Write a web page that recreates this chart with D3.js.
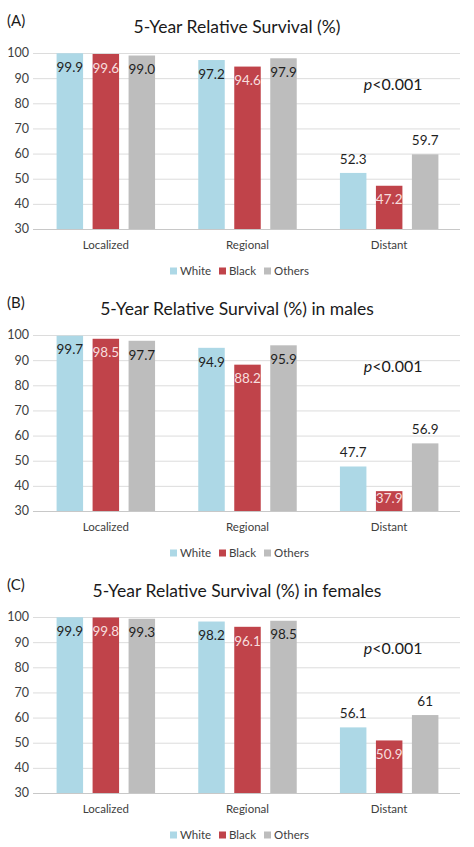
<!DOCTYPE html>
<html>
<head>
<meta charset="utf-8">
<script src="https://cdn.jsdelivr.net/npm/d3@7"></script>
<style>
  body { margin: 0; background: #fff; }
  svg { display: block; font-family: Lato, "Open Sans", sans-serif; }
</style>
</head>
<body>
<svg id="chart" width="474" height="847"></svg>
<script>
// Three stacked grouped-bar panels: 5-year relative survival by stage and race.

const categories = ["Localized", "Regional", "Distant"];
const series = ["White", "Black", "Others"];
const panelLetters = ["(A)", "(B)", "(C)"];
const panelTitles = [
  "5-Year Relative Survival (%)",
  "5-Year Relative Survival (%) in males",
  "5-Year Relative Survival (%) in females"
];
const pLabels = ["<0.001", "<0.001", "<0.001"];

// values kept as the printed labels (Excel shows "61" without decimal)
const allWhite = ["99.9", "97.2", "52.3"];
const allBlack = ["99.6", "94.6", "47.2"];
const allOthers = ["99.0", "97.9", "59.7"];
const maleWhite = ["99.7", "94.9", "47.7"];
const maleBlack = ["98.5", "88.2", "37.9"];
const maleOthers = ["97.7", "95.9", "56.9"];
const femaleWhite = ["99.9", "98.2", "56.1"];
const femaleBlack = ["99.8", "96.1", "50.9"];
const femaleOthers = ["99.3", "98.5", "61"];

const yTicks = [30, 40, 50, 60, 70, 80, 90, 100];

const panelSeries = [
  [allWhite, allBlack, allOthers],
  [maleWhite, maleBlack, maleOthers],
  [femaleWhite, femaleBlack, femaleOthers]
];

const colors = { White: "#add8e6", Black: "#c0434a", Others: "#bdbdbd" };
const labelColors = { White: "#1f1f1f", Black: "#f7dede", Others: "#1f1f1f" };

const svg = d3.select("#chart");
const panelH = 282;

const x0 = d3.scaleBand().domain(categories).range([35, 460]).paddingInner(0);
const x1 = d3.scaleBand().domain(series).range([0, x0.bandwidth()])
  .paddingInner(0.264).paddingOuter(0.6);
const y = d3.scaleLinear().domain([30, 100]).range([229, 53]);

const isInside = d => d.s === "Black" || d.value > 80;

panelTitles.forEach((title, pi) => {
  const g = svg.append("g").attr("transform", `translate(0,${pi * panelH})`);

  g.append("text")
    .attr("x", 7).attr("y", 26)
    .attr("font-size", 15).attr("fill", "#1a1a1a")
    .text(panelLetters[pi]);

  g.append("text")
    .attr("x", 237).attr("y", 33)
    .attr("text-anchor", "middle")
    .attr("font-size", 17.5).attr("fill", "#1a1a1a")
    .text(title);

  // gridlines
  g.selectAll("line.grid")
    .data(yTicks)
    .join("line")
    .attr("class", "grid")
    .attr("x1", 33).attr("x2", 460)
    .attr("y1", d => y(d) + 0.5).attr("y2", d => y(d) + 0.5)
    .attr("stroke", d => d === 30 ? "#c8c8c8" : "#dcdcdc")
    .attr("stroke-width", 1);

  // y tick labels
  g.selectAll("text.ytick")
    .data(yTicks)
    .join("text")
    .attr("class", "ytick")
    .attr("x", 29).attr("y", d => y(d))
    .attr("dy", "0.35em")
    .attr("text-anchor", "end")
    .attr("font-size", 12.5).attr("fill", "#404040")
    .text(d => d);

  // bars
  const rows = [];
  categories.forEach((cat, ci) => {
    series.forEach((s, si) => {
      const label = panelSeries[pi][si][ci];
      rows.push({ cat, s, label, value: +label });
    });
  });

  const groups = g.selectAll("g.cat")
    .data(rows)
    .join("g")
    .attr("class", "cat")
    .attr("transform", d => `translate(${x0(d.cat)},0)`);

  groups.append("rect")
    .attr("x", d => x1(d.s))
    .attr("width", x1.bandwidth())
    .attr("y", d => y(d.value))
    .attr("height", d => y(30) - y(d.value))
    .attr("fill", d => colors[d.s]);

  // labels: inside end for tall bars and Black, outside end otherwise
  groups.append("text")
    .attr("x", d => x1(d.s) + x1.bandwidth() / 2)
    .attr("y", d => isInside(d)
      ? Math.min(y(d.value) + 14, y(30) - 13)
      : y(d.value) - 14)
    .attr("dy", "0.35em")
    .attr("text-anchor", "middle")
    .attr("font-size", 13.5)
    .attr("fill", d => isInside(d) ? labelColors[d.s] : "#1f1f1f")
    .text(d => d.label);

  // category labels
  g.selectAll("text.cat-label")
    .data(categories)
    .join("text")
    .attr("class", "cat-label")
    .attr("x", d => x0(d) + x0.bandwidth() / 2)
    .attr("y", 245).attr("dy", "0.35em")
    .attr("text-anchor", "middle")
    .attr("font-size", 11.5).attr("fill", "#404040")
    .text(d => d);

  // p value
  const pt = g.append("text")
    .attr("x", x0("Distant") + x0.bandwidth() / 2 + 4)
    .attr("y", y(87.5)).attr("dy", "0.35em")
    .attr("text-anchor", "middle")
    .attr("font-size", 16).attr("fill", "#1a1a1a");
  pt.append("tspan").attr("font-style", "italic").text("p");
  pt.append("tspan").text(pLabels[pi]);

  // legend
  const legendX = [170, 219, 264];
  const lg = g.selectAll("g.legend")
    .data(series)
    .join("g")
    .attr("class", "legend")
    .attr("transform", (d, i) => `translate(${legendX[i]},271)`);
  lg.append("rect")
    .attr("x", 0).attr("y", -3.5)
    .attr("width", 7).attr("height", 7)
    .attr("fill", d => colors[d]);
  lg.append("text")
    .attr("x", 10).attr("dy", "0.35em")
    .attr("font-size", 11.5).attr("fill", "#404040")
    .text(d => d);
});
</script>
</body>
</html>
